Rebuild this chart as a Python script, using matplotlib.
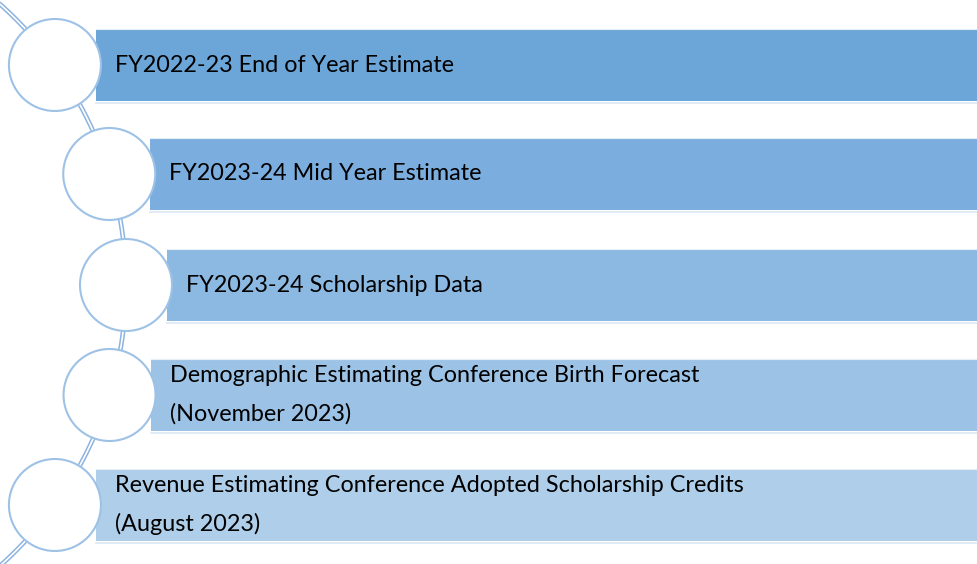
import numpy as np
import matplotlib.pyplot as plt
from matplotlib.patches import Circle, Rectangle

# Items in the list (top to bottom)
labels = [
    "FY2022-23 End of Year Estimate",
    "FY2023-24 Mid Year Estimate",
    "FY2023-24 Scholarship Data",
    "Demographic Estimating Conference Birth Forecast\n(November 2023)",
    "Revenue Estimating Conference Adopted Scholarship Credits\n(August 2023)",
]
bar_colors = ["#6CA6D9", "#7BAEDE", "#8CB9E2", "#9CC3E6", "#AECEEA"]

# layout, in pixels (figure is 978 x 564)
W, H = 978, 564
arc_cx, arc_cy, arc_r = -250.0, 285.0, 376.0
row_y = [65, 174, 285, 395, 505]
bar_h = 72
circ_r = 46

fig = plt.figure(figsize=(9.78, 5.64), dpi=100)
ax = fig.add_axes([0, 0, 1, 1])
ax.set_xlim(0, W)
ax.set_ylim(H, 0)
ax.axis('off')

# connecting arc (double line)
yy = np.linspace(-5, H + 5, 400)
xx = arc_cx + np.sqrt(arc_r ** 2 - (yy - arc_cy) ** 2)
ax.plot(xx, yy, color='#8DB3E0', lw=3.4, zorder=1, solid_capstyle='butt')
ax.plot(xx, yy, color='white', lw=1.2, zorder=1.1, solid_capstyle='butt')

for i, (label, color, cy) in enumerate(zip(labels, bar_colors, row_y)):
    cx = arc_cx + np.sqrt(arc_r ** 2 - (cy - arc_cy) ** 2)
    # bar
    ax.add_patch(Rectangle((cx + 41, cy - bar_h / 2), W - cx, bar_h,
                           facecolor=color, edgecolor='none', zorder=2))
    ax.plot([cx + 41, W], [cy + bar_h / 2 + 1.5] * 2, color='#DCE8F5', lw=1.2, zorder=2)
    ax.plot([cx + 41, W], [cy - bar_h / 2 - 0.5] * 2, color='#E6EFF8', lw=0.8, zorder=2)
    # circle
    ax.add_patch(Circle((cx, cy), circ_r, facecolor='white',
                        edgecolor='#9EC2E6', lw=1.5, zorder=3))
    ax.text(cx + 60, cy, label, fontsize=16.8, family=['Lato', 'DejaVu Sans'],
            color='black', ha='left', va='center', linespacing=1.95, zorder=4)

fig.savefig('out.png', dpi=100)
